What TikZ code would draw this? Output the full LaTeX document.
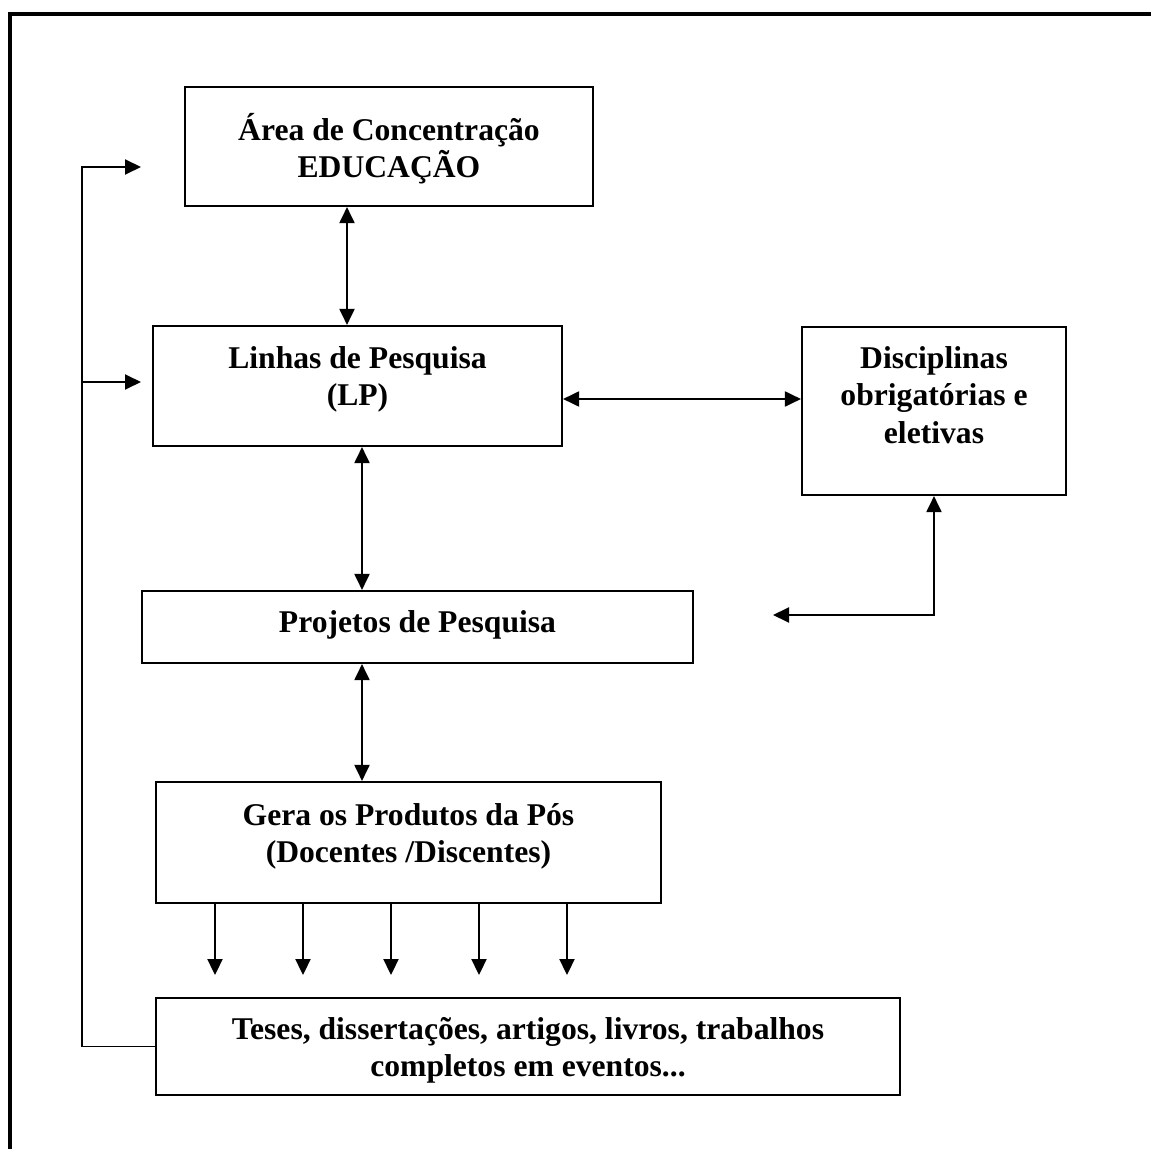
\documentclass[tikz,border=0pt]{standalone}
\usepackage{fontspec}
\setmainfont{Liberation Serif}
\usepackage{tikz}
\usetikzlibrary{arrows.meta,positioning,calc}

\begin{document}
\begin{tikzpicture}[
        every node/.style={font=\fontsize{18}{21.3}\selectfont\bfseries},
        box/.style={draw, line width=1.2pt, inner sep=0pt},
        txt/.style={anchor=north, align=center, inner sep=0pt},
        link/.style={line width=1.1pt, -{Triangle[length=0.32cm, width=0.3cm]}},
        dlink/.style={line width=1.1pt, {Triangle[length=0.32cm, width=0.3cm]}-{Triangle[length=0.32cm, width=0.3cm]}},
    ]
        \useasboundingbox (0,0) rectangle (23.02,-22.98);

        % --- page frame (top and left edge) ---
        \draw[line width=2.3pt] (0.2,-22.98) -- (0.2,-0.28) -- (23.02,-0.28);

        % --- boxes ---
        \node[box, minimum width=8.16cm, minimum height=2.38cm]  (area)   at (7.78,-2.93)  {};
        \node[box, minimum width=8.18cm, minimum height=2.40cm]  (linhas) at (7.15,-7.72)  {};
        \node[box, minimum width=5.28cm, minimum height=3.36cm]  (disc)   at (18.68,-8.22) {};
        \node[box, minimum width=11.02cm, minimum height=1.44cm] (proj)   at (8.35,-12.54) {};
        \node[box, minimum width=10.10cm, minimum height=2.42cm] (gera)   at (8.17,-16.85) {};
        \node[box, minimum width=14.88cm, minimum height=1.94cm] (teses)  at (10.56,-20.93) {};

        % --- texts ---
        \node[txt] (areaT)   at ([yshift=-0.54cm]area.north)   {Área de Concentração\\EDUCAÇÃO};
        \node[txt] (linhasT) at ([yshift=-0.42cm]linhas.north) {Linhas de Pesquisa\\(LP)};
        \node[txt] (discT)   at ([yshift=-0.40cm]disc.north)   {Disciplinas\\obrigatórias e\\eletivas};
        \node[txt] (projT)   at ([yshift=-0.40cm]proj.north)   {Projetos de Pesquisa};
        \node[txt] (geraT)   at ([yshift=-0.44cm]gera.north)   {Gera os Produtos da Pós\\(Docentes /Discentes)};
        \node[txt] (tesesT)  at ([yshift=-0.40cm]teses.north)  {Teses, dissertações, artigos, livros, trabalhos\\completos em eventos...};

        % --- free ends ---
        \coordinate (back)   at (1.64,-20.93);
        \coordinate (toArea) at (2.82,-3.34);
        \coordinate (toLP)   at (2.82,-7.64);
        \coordinate (projR)  at (15.46,-12.30);

        % --- arrows ---
        \draw[dlink] (area.south -| 6.94,0) -- (linhas.north -| 6.94,0);
        \draw[dlink] (linhas.south -| 7.24,0) -- (proj.north -| 7.24,0);
        \draw[dlink] (proj.south -| 7.24,0) -- (gera.north -| 7.24,0);
        \draw[dlink] (linhas.east |- 0,-7.98) -- (disc.west |- 0,-7.98);
        \draw[dlink] (projR) -| (disc.south);
        \foreach \x in {4.30,6.06,7.82,9.58,11.34}
            \draw[link] (gera.south -| \x,0) -- ++(0,-1.42);

        % --- feedback loop ---
        \draw[link] (teses.west) -- (back) |- (toArea);
        \draw[link] (back |- toLP) -- (toLP);
    \end{tikzpicture}
\end{document}
